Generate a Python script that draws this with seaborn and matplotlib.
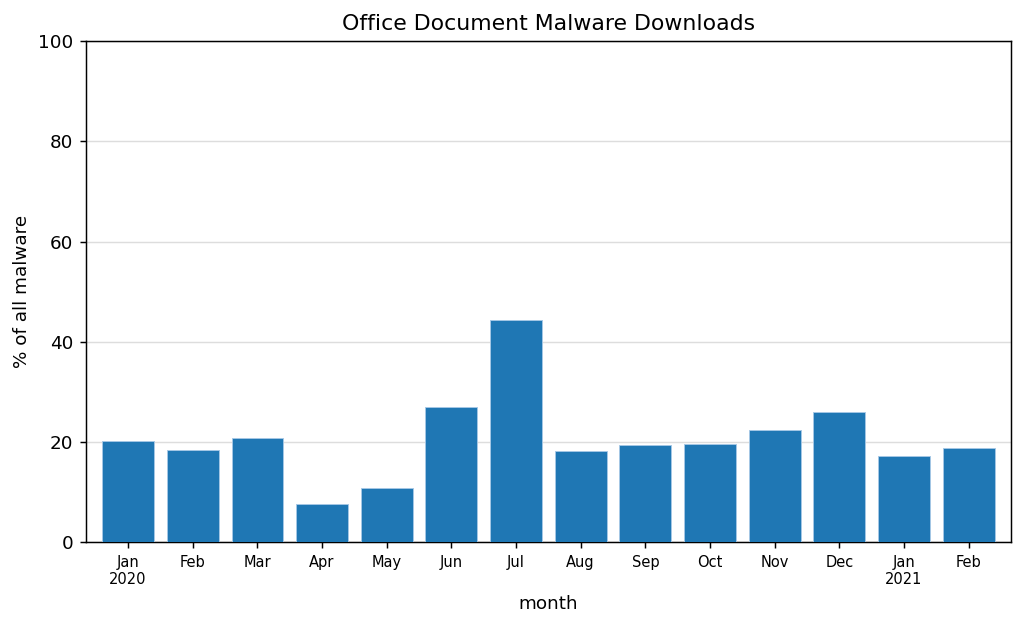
import numpy as np
import pandas as pd
import matplotlib
matplotlib.use("Agg")
import matplotlib.pyplot as plt
import seaborn as sns

months = ["Jan\n2020", "Feb", "Mar", "Apr", "May", "Jun", "Jul",
          "Aug", "Sep", "Oct", "Nov", "Dec", "Jan\n2021", "Feb"]
pct_malware = [20.3, 18.5, 20.8, 7.6, 10.9, 27.0, 44.3,
               18.3, 19.5, 19.7, 22.5, 25.9, 17.3, 18.8]

# plain matplotlib look, black text
plt.style.use("default")
plt.rcParams["font.family"] = ["DejaVu Sans"]

DPI = 132
df = pd.DataFrame({"idx": range(len(months)), "pct": pct_malware})

fig, ax = plt.subplots(figsize=(1024 / DPI, 624 / DPI), dpi=DPI)
sns.barplot(data=df, x="idx", y="pct", color="#1f77b4", saturation=1,
            width=0.8, edgecolor="#a6c8e6", linewidth=0.5, ax=ax, zorder=3)

ax.set_xticks(range(len(months)))
ax.set_xticklabels(months, fontsize=8)
ax.set_xlim(-0.65, len(months) - 0.35)
ax.set_ylim(0, 100)
ax.set_yticks([0, 20, 40, 60, 80, 100])
ax.yaxis.grid(True, color="#dddddd", linewidth=0.8, zorder=0)
ax.set_axisbelow(True)
ax.set_title("Office Document Malware Downloads", fontsize=12)
ax.set_xlabel("month")
ax.set_ylabel("% of all malware")

fig.subplots_adjust(left=0.084, right=0.987, top=0.934, bottom=0.131)
fig.savefig("out.png", dpi=DPI)
